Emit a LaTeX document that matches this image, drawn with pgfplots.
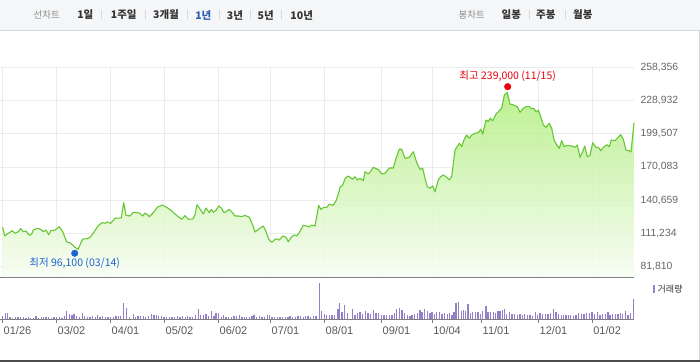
\documentclass[border=0pt]{standalone}
\usepackage{fontspec}
\setmainfont{Liberation Sans}
\newfontfamily\kr{Noto Sans CJK KR}
\usepackage{pgfplots}
\pgfplotsset{compat=1.18}
\usepackage{pgfplotstable}
\definecolor{linegreen}{HTML}{66C733}
\definecolor{filltop}{HTML}{B2EE80}
\definecolor{fillbot}{HTML}{F7FDF3}
\definecolor{gridgray}{HTML}{EBEBEB}
\definecolor{volpurple}{HTML}{9480C8}
\definecolor{headbg}{HTML}{F5F6F8}
\definecolor{headline}{HTML}{D6D7D9}
\definecolor{ticktext}{HTML}{666666}
\definecolor{hiRed}{HTML}{E8000B}
\definecolor{loBlue}{HTML}{1F62D0}
\definecolor{selBlue}{HTML}{2E5CB8}
\definecolor{darktext}{HTML}{333333}
\definecolor{graytext}{HTML}{8A8A8A}

\pgfplotstableread{
x price
2.7 116700
4.7 109000
8.3 111400
12.3 113700
15 111400
18.3 112800
20.7 115500
23.3 112800
26 113400
29.3 109600
31.7 110800
33.3 114300
37.3 115800
40.7 114900
43.3 112800
46 114300
48.7 110100
50.7 113700
55 114300
59.3 117200
62.7 112800
66.7 103700
70 103100
75 99000
78 97200
82.7 106300
87.3 106600
90 107800
94 112500
98 117800
102 120800
105 120200
107.3 121400
110.7 120200
115 124700
120 124900
121.3 125200
123.7 138500
126 127300
130 126700
133.3 130000
137.3 129600
140 129100
142.7 126700
144.7 129100
146.7 128500
149.3 126100
153.3 129600
157.3 134400
162 136400
166.7 134400
170.7 132000
175 128500
178.3 126100
181.7 123800
185 127000
188.3 123800
192.7 124000
195 127600
197 136700
200.7 132000
203.3 128500
206 133800
209.3 129600
211.3 132600
213.3 130000
216 131700
218.7 135600
221.7 133500
224 129600
226.7 130900
229.3 132600
232 130200
235 126700
238.3 126700
241.7 126100
245 127300
249.3 125500
252 120200
255 112500
259.3 115500
263.3 117800
266 112800
268.7 106100
271.7 103400
276 106600
279.3 105400
282.7 109000
286 107800
288.3 103900
291.7 108400
294.7 109900
296.7 109000
299.3 111900
303.3 118500
306.7 117800
309.3 117000
311.7 118700
315 117800
318.7 136200
320.7 132600
324 134400
326.7 134400
329.3 137100
333.3 136200
336 140200
338.7 147300
340 152100
342.7 154100
345.3 160300
348.3 162100
352.7 159200
355 161500
357.3 158600
360 160100
363.3 158000
365 165900
368.3 163900
370.7 166300
373.3 169800
376 168600
378.3 168000
381.7 163900
385 164500
389.3 169200
393.3 169200
396 177800
399.3 185800
401.7 185800
405 177800
409.3 178700
413.3 183600
416.7 174000
420 168000
422.7 168900
425 160100
427.3 152600
430 151200
432.7 153300
435 148200
438.3 158600
440.7 161500
443.3 163000
446.7 161000
449.3 158600
451.7 161500
455 185100
459.3 191100
461.7 188100
464 194000
466.7 198400
469.3 195500
471.7 198400
475 199900
478.3 200500
480.7 203500
482.7 199300
486 211700
488.3 210200
490 213200
492.7 211100
496 217000
499.3 219900
501.7 222100
504.3 233800
507.3 235900
510 225900
513.3 225000
517.3 223500
520 218500
523.3 222100
526 223500
529.3 223500
531.7 221700
534 221900
536 218800
538.3 220500
540.7 214600
543.3 207300
546 205200
549.3 208800
551.7 204300
554 194000
556.7 189600
559.3 186600
561.7 193400
564 188100
567.3 189300
571.7 188700
575 187500
577.3 189600
580 178700
582.7 183600
584.7 188700
587.3 179200
590 180400
592.7 191600
596 187500
598.3 187500
600.7 184500
603.3 187500
606.7 189800
609.3 188100
611.3 194000
615 193400
618.3 196400
620.7 198700
623.3 194600
626 185100
629.3 184500
631 183400
634 209300
}\pricedata

\pgfplotstableread{
x vol
2.7 3.3
5.3 6.7
7.3 6.7
10 2
12.7 1.7
15.3 2.3
18 2
20.7 2.3
23.3 2
26 1.7
28.7 2.3
30.7 1.3
33.3 1.7
36 3.3
38.7 1.7
41.3 2
43.3 2.3
46 2
48.7 2.3
51.3 1.7
54 2.3
56.7 2
59.3 2.3
62 1.7
64.7 3.3
66.7 8.3
69.3 5
72 4.3
74 5.7
76.7 3.3
79.3 2.3
82.7 6.3
84.7 3.3
87.3 2.3
90 2
92.7 3
95.3 2.3
97.3 4
100 2
102.7 3.3
105.3 2.3
108 2.3
110.7 2
113.3 2
116 3
118.7 3.7
120.7 3.3
123.3 16.7
126.7 11.3
129.3 2.7
133.3 5
135.3 2.3
138 3.3
140.7 3
143.3 3
145.3 2.3
148.7 3
151.3 5
154 4.7
156.7 4.7
158.7 3.3
161.3 3.7
164 2.7
166.7 2
169.3 2.7
172 2
174.7 2.7
177.3 3.3
180 2.7
182.7 3
185.3 2.3
187.3 3.3
190 2.3
192.7 2.7
195.3 4.7
198.7 10.3
200.7 4.7
203.3 4.3
206 5.3
208.7 3.3
211.3 8.3
214 3.3
216 6.7
218.7 6
221.3 2.7
223.3 4
226 2
228.7 2.7
231.3 2.3
234 3.7
236.7 3.7
239.3 4
242 2.7
244.7 2.7
246.7 2.3
249.3 2.7
252 3.3
254 4.3
256.7 2.7
259.3 3
262 2.3
264.7 2
267.3 4.7
269.3 4.3
272 2.7
274.7 2.3
277.3 2.3
280 2.3
282.7 2.3
285.3 2.7
288 2.3
290 3
292.7 2.7
295.3 2.3
298 3
300.7 3
303.3 2.7
305.3 3.3
308 3.3
310.7 2
313.3 3.3
316 3
319.3 36.7
321.3 8.3
324.7 5.3
326.7 4.7
329.3 4.7
332 4.7
334.7 4
338 10.3
339.3 16
342 7
344.7 14.3
347.3 6
352.7 10
355 4
357.3 6
360 7
362.7 5
365.3 8.7
368 6.7
370.7 5
373.3 9.3
376 6
378.7 6.3
381.3 4.3
384 4.3
386.7 4.3
389.3 4.3
392 4.3
394.7 6
396.7 10
399.3 11.3
402 9
404.7 6.7
407.3 4.3
410 3.7
412 4.3
414.7 5.7
417.3 6.7
420 9
422 7.3
424.7 10
427.3 8.7
430 6
432 7.3
434.7 5.7
436.7 7.7
439.3 7.3
442 5.7
444.7 6
447.3 5.3
449.3 6.7
452 4.3
454 7.3
456 16.7
458.7 17.3
461.3 8.7
463.3 9
465.3 8
468 15.3
470.7 6
472.7 7
475.3 7.3
478 7.3
480.7 5.3
482.7 8
486 13.3
488 7
490.7 7.7
493.3 7
495.3 6
498 8.7
500 8.3
502.7 9
504.7 10
506.7 5.3
509.3 7
512 5.7
514.7 5.3
517.3 4.7
520 5.3
522.7 4.3
524.7 5.3
527.3 4
530 4.7
532.7 3.3
535.3 7.3
537.3 4
540 6.7
542.7 5
545.3 5.3
548 5.3
550.7 6.7
553.3 10.3
556 7
558.7 5.3
561.3 4.7
563.3 4
566 4.3
568.7 4.3
570.7 4
573.3 3.7
576 4.3
578.7 6
581.3 5.7
584 5.3
586.7 6.7
589.3 6
592 7.3
594.7 5.7
597.3 7
600 4.3
602.7 5.7
605.3 5
608 7.7
610 4.3
612.7 5.7
615.3 5
618 5.3
620.7 6
622.7 5.3
625.3 8
628 4.7
630.7 6.7
633.3 20
}\voldata

\begin{document}
\begin{tikzpicture}[x=1pt,y=1pt]
\path[use as bounding box] (0,0) rectangle (700,362);
\fill[white] (0,0) rectangle (700,362);
% header bar
\fill[headbg] (0,332) rectangle (700,362);
\draw[headline] (0,331.5) -- (700,331.5);
\draw[headline] (699.5,0) -- (699.5,332);
\fill[black!70] (0,0) rectangle (700,2.5);
\begin{scope}[every node/.style={inner sep=0pt, anchor=center}]
\node[text=graytext, font=\kr\fontsize{9.5}{11}\selectfont] at (46.7,347) {선차트};
\node[text=darktext, font=\kr\bfseries\fontsize{10.5}{12}\selectfont] at (85.3,347) {1일};
\node[text=darktext, font=\kr\bfseries\fontsize{10.5}{12}\selectfont] at (123.8,347) {1주일};
\node[text=darktext, font=\kr\bfseries\fontsize{10.5}{12}\selectfont] at (166,347) {3개월};
\node[text=selBlue, font=\kr\bfseries\fontsize{10.5}{12}\selectfont] at (203.3,347) {1년};
\node[text=darktext, font=\kr\bfseries\fontsize{10.5}{12}\selectfont] at (235,347) {3년};
\node[text=darktext, font=\kr\bfseries\fontsize{10.5}{12}\selectfont] at (265.7,347) {5년};
\node[text=darktext, font=\kr\bfseries\fontsize{10.5}{12}\selectfont] at (301.7,347) {10년};
\node[text=graytext, font=\kr\fontsize{9.5}{11}\selectfont] at (471.7,347) {봉차트};
\node[text=darktext, font=\kr\bfseries\fontsize{10.5}{12}\selectfont] at (511.3,347) {일봉};
\node[text=darktext, font=\kr\bfseries\fontsize{10.5}{12}\selectfont] at (545.8,347) {주봉};
\node[text=darktext, font=\kr\bfseries\fontsize{10.5}{12}\selectfont] at (582.8,347) {월봉};
\end{scope}
\foreach \sx in {101,145,187.3,219.7,250,281.7,529,565}{
  \draw[headline, line width=0.8pt] (\sx,342.5) -- (\sx,351.5);
}

% price panel
\begin{axis}[
  at={(0pt,85pt)}, anchor=south west, scale only axis,
  width=634pt, height=209.7pt,
  xmin=0, xmax=634, ymin=72687, ymax=258356,
  scaled y ticks=false, scaled x ticks=false,
  xtick={2.7,56.7,110.7,164.7,218.7,270.7,324.7,381.7,432.3,481.7,538.7,592.3},
  xticklabels={},
  ytick={81810,111234,140659,170083,199507,228932,258356},
  yticklabels={{81,810},{111,234},{140,659},{170,083},{199,507},{228,932},{258,356}},
  grid=major, grid style={gridgray, line width=0.9pt},
  major tick length=0pt,
  axis x line*=bottom, axis y line*=right,
  y axis line style={draw=none},
  x axis line style={draw=black!55, line width=1pt},
  yticklabel style={font=\fontsize{10.4}{12}\selectfont, text=ticktext, anchor=west, xshift=3pt},
  clip=false,
]
\addplot[draw=none, fill opacity=0.85, top color=filltop, bottom color=fillbot]
  table[x=x, y=price] {\pricedata} -- (axis cs:634,72687) -- (axis cs:2.7,72687) -- cycle;
\addplot[linegreen, line width=1.1pt, line join=round] table[x=x, y=price] {\pricedata};
\addplot[only marks, mark=*, mark size=3.3pt, hiRed, mark options={draw=hiRed, fill=hiRed},
  nodes near coords={\kr 최고 239{,}000 (11/15)}, nodes near coords align={above},
  every node near coord/.append style={font=\fontsize{10.5}{12}\selectfont, text=hiRed, yshift=2pt}]
  coordinates {(507.7,241200)};
\addplot[only marks, mark=*, mark size=3.3pt, loBlue, mark options={draw=loBlue, fill=loBlue},
  nodes near coords={\kr 최저 96{,}100 (03/14)}, nodes near coords align={below},
  every node near coord/.append style={font=\fontsize{10.5}{12}\selectfont, text=loBlue, yshift=-1pt}]
  coordinates {(74.7,93700)};
\end{axis}

% volume panel
\begin{axis}[
  at={(0pt,42.7pt)}, anchor=south west, scale only axis,
  width=634pt, height=43.3pt,
  xmin=0, xmax=634, ymin=0, ymax=43.3,
  axis x line*=bottom, axis y line=none,
  xtick={2.7,56.7,110.7,164.7,218.7,270.7,324.7,381.7,432.3,481.7,538.7,592.3},
  xticklabels={01/26,03/02,04/01,05/02,06/02,07/01,08/01,09/01,10/04,11/01,12/01,01/02},
  xtick align=outside, major tick length=4pt,
  tick style={black!50, line width=0.8pt},
  x axis line style={draw=black!50, line width=1pt},
  xticklabel style={font=\fontsize{11}{12}\selectfont, text=black!65, anchor=north west, xshift=-2.5pt},
  clip=false,
]
\addplot[ycomb, volpurple, line width=1.1pt] table[x=x, y=vol] {\voldata};
\end{axis}

% volume legend
\fill[volpurple] (652.7,69.3) rectangle (655.3,77);
\node[anchor=west, inner sep=0pt, text=darktext, font=\kr\fontsize{9}{11}\selectfont] at (657.5,73) {거래량};
\end{tikzpicture}
\end{document}
